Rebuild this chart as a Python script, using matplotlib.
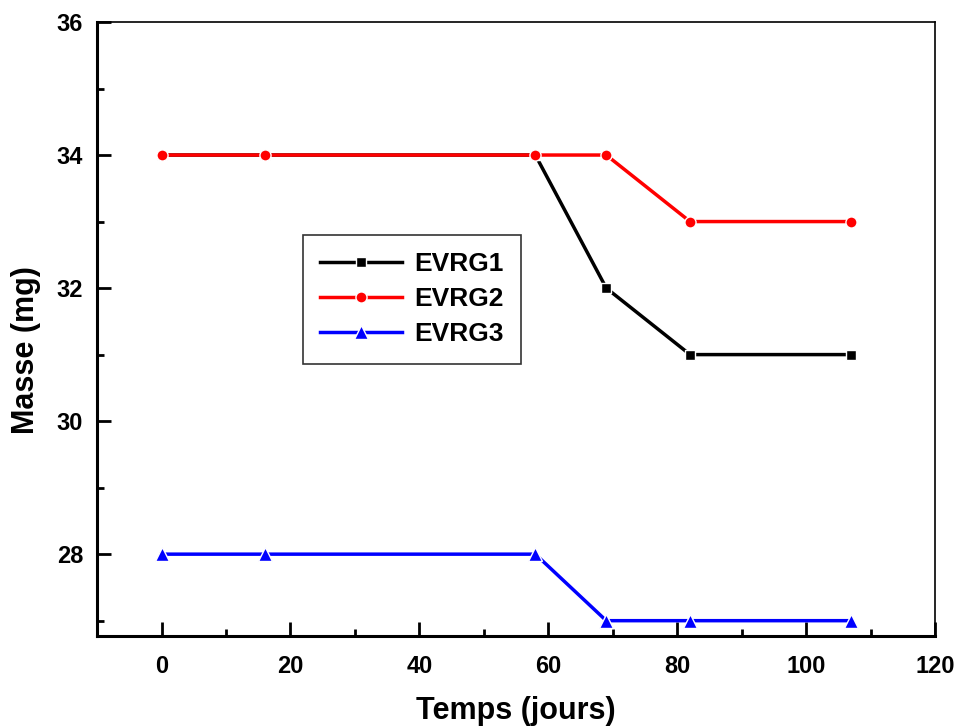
import matplotlib
matplotlib.use("Agg")
import matplotlib.pyplot as plt
from matplotlib.ticker import MultipleLocator

plt.rcParams['font.family'] = ['Liberation Sans', 'DejaVu Sans']
plt.rcParams['font.weight'] = 'bold'

# data
temps = [0, 16, 58, 69, 82, 107]
evrg1 = [34, 34, 34, 32, 31, 31]
evrg2 = [34, 34, 34, 34, 33, 33]
evrg3 = [28, 28, 28, 27, 27, 27]

fig = plt.figure(figsize=(9.58, 7.26), dpi=100)
ax = fig.add_axes([0.1013, 0.124, 0.8747, 0.8457])

style = dict(lw=2.5, mec='white', mew=1.0)
ax.plot(temps, evrg1, color='black', marker='s', ms=7.5, label='EVRG1', **style)
ax.plot(temps, evrg2, color='red', marker='o', ms=8, label='EVRG2', **style)
ax.plot(temps, evrg3, color='blue', marker='^', ms=9.5, label='EVRG3', **style)

ax.set_xlim(-10, 120)
ax.set_ylim(26.77, 36)
ax.xaxis.set_major_locator(MultipleLocator(20))
ax.xaxis.set_minor_locator(MultipleLocator(10))
ax.yaxis.set_major_locator(MultipleLocator(2))
ax.yaxis.set_minor_locator(MultipleLocator(1))
ax.set_yticks([28, 30, 32, 34, 36])

ax.tick_params(which='both', direction='in', top=False, right=False,
               width=2, labelsize=17)
ax.tick_params(axis='x', pad=14)
ax.tick_params(axis='y', pad=10)
ax.tick_params(which='major', length=10)
ax.tick_params(which='minor', length=5)
for s in ['left', 'bottom']:
    ax.spines[s].set_linewidth(2.2)
for s in ['top', 'right']:
    ax.spines[s].set_linewidth(1.2)

ax.set_xlabel('Temps (jours)', fontsize=22, fontweight='bold')
ax.set_ylabel('Masse (mg)', fontsize=22, fontweight='bold')
ax.xaxis.set_label_coords(0.5, -0.097)
ax.yaxis.set_label_coords(-0.067, 0.465)

leg = ax.legend(loc='upper left', bbox_to_anchor=(0.246, 0.653), borderaxespad=0,
                fancybox=False, edgecolor='black', handlelength=3.1,
                borderpad=0.65, labelspacing=0.42, handletextpad=0.45,
                prop={'weight': 'bold', 'size': 19})
leg.get_frame().set_linewidth(1.2)

fig.savefig('out.png', dpi=100)
